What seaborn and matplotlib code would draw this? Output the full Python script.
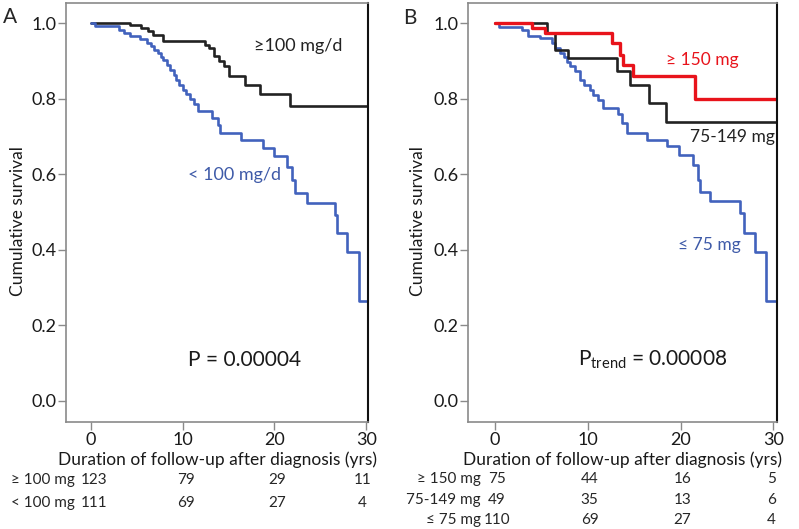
import matplotlib
matplotlib.use("Agg")
import matplotlib.pyplot as plt
import matplotlib.transforms as mtransforms
from matplotlib.ticker import FormatStrFormatter
import seaborn as sns
import pandas as pd

# Panel A: >=100 mg/d vs <100 mg/d (step curves, time in yrs / cumulative survival)
a_hi_t = [0, 4.3, 5.5, 6.2, 6.8, 7.9, 12.4, 12.9, 13.4, 14.0, 14.5, 15.0, 16.8, 18.4, 21.7, 30.2]
a_hi_s = [1.0, 0.994, 0.987, 0.98, 0.968, 0.952, 0.943, 0.933, 0.912, 0.899, 0.885, 0.859, 0.837, 0.811, 0.781, 0.781]

a_lo_t = [0, 0.4, 3.0, 3.6, 4.3, 5.3, 6.1, 6.5, 6.9, 7.3, 7.6, 7.9, 8.3, 8.6, 9.0, 9.3, 9.6, 10.0,
          10.4, 10.8, 11.2, 11.7, 13.2, 13.8, 14.1, 16.4, 18.8, 19.9, 21.4, 21.9, 22.2, 23.5,
          26.6, 26.8, 27.9, 29.2, 30.2]
a_lo_s = [1.0, 0.992, 0.982, 0.974, 0.967, 0.958, 0.947, 0.938, 0.929, 0.92, 0.911, 0.902, 0.889,
          0.876, 0.863, 0.85, 0.837, 0.824, 0.811, 0.798, 0.785, 0.766, 0.749, 0.73, 0.709, 0.691,
          0.669, 0.647, 0.62, 0.585, 0.55, 0.523, 0.493, 0.444, 0.395, 0.263, 0.263]

# Panel B: >=150 mg, 75-149 mg, <=75 mg
b_hi_t = [0, 4.0, 5.4, 12.6, 13.5, 13.8, 14.9, 21.6, 30.4]
b_hi_s = [1.0, 0.987, 0.974, 0.947, 0.916, 0.89, 0.859, 0.80, 0.80]

b_mid_t = [0, 5.6, 6.5, 7.9, 13.2, 14.6, 16.6, 18.4, 30.4]
b_mid_s = [1.0, 0.974, 0.929, 0.907, 0.872, 0.837, 0.788, 0.739, 0.739]

b_lo_t = [0, 0.4, 2.9, 3.6, 4.9, 6.1, 6.5, 7.0, 7.4, 7.8, 8.1, 8.6, 9.2, 9.6, 10.2, 10.6, 11.1,
          11.7, 13.3, 13.7, 14.2, 16.4, 18.5, 19.8, 21.4, 21.9, 22.1, 23.2, 26.4, 26.8, 28.0,
          29.2, 30.4]
b_lo_s = [1.0, 0.99, 0.982, 0.966, 0.96, 0.947, 0.935, 0.922, 0.91, 0.898, 0.886, 0.872, 0.85,
          0.837, 0.824, 0.81, 0.797, 0.775, 0.758, 0.735, 0.709, 0.691, 0.674, 0.651, 0.625,
          0.585, 0.554, 0.528, 0.497, 0.444, 0.395, 0.263, 0.263]

# numbers at risk
risk_times = [0, 10, 20, 30]
a_risk_labels = ['≥ 100 mg', '< 100 mg']
a_risk = [[123, 79, 29, 11], [111, 69, 27, 4]]
b_risk_labels = ['≥ 150 mg', '75-149 mg', '≤ 75 mg']
b_risk = [[75, 44, 16, 5], [49, 35, 13, 6], [110, 69, 27, 4]]

blue = '#4262bd'
red = '#e8131b'
black = '#222222'
grey = '#8a8a8a'

dfA = pd.concat([
    pd.DataFrame({'t': a_hi_t, 's': a_hi_s, 'grp': 'hi'}),
    pd.DataFrame({'t': a_lo_t, 's': a_lo_s, 'grp': 'lo'}),
])
dfB = pd.concat([
    pd.DataFrame({'t': b_lo_t, 's': b_lo_s, 'grp': 'lo'}),
    pd.DataFrame({'t': b_mid_t, 's': b_mid_s, 'grp': 'mid'}),
    pd.DataFrame({'t': b_hi_t, 's': b_hi_s, 'grp': 'hi'}),
])

sns.set_style('white')
plt.rcParams['font.family'] = ['Lato', 'DejaVu Sans']

fig = plt.figure(figsize=(7.99, 5.29), dpi=100)
axA = fig.add_axes([0.0826, 0.2023, 0.378, 0.792])
axB = fig.add_axes([0.5857, 0.2023, 0.3868, 0.792])

sns.lineplot(data=dfA, x='t', y='s', hue='grp', palette={'hi': black, 'lo': blue},
             estimator=None, sort=False, drawstyle='steps-post', linewidth=1.9,
             legend=False, ax=axA)
sns.lineplot(data=dfB, x='t', y='s', hue='grp', palette={'hi': red, 'mid': black, 'lo': blue},
             estimator=None, sort=False, drawstyle='steps-post', linewidth=1.9,
             legend=False, ax=axB)
for ln in axB.get_lines():
    if ln.get_color() == red:
        ln.set_linewidth(2.4)


def style_ax(ax, xlim, ylab_x):
    ax.set_xlim(*xlim)
    ax.set_ylim(-0.056, 1.053)
    ax.set_xticks(risk_times)
    ax.set_yticks([0, 0.2, 0.4, 0.6, 0.8, 1.0])
    ax.yaxis.set_major_formatter(FormatStrFormatter('%.1f'))
    for s in ['left', 'top', 'bottom']:
        ax.spines[s].set_color(grey)
        ax.spines[s].set_linewidth(1.2)
    ax.spines['right'].set_color('#111111')
    ax.spines['right'].set_linewidth(1.5)
    ax.tick_params(direction='out', length=6, width=1, color=grey, labelsize=13,
                   pad=1, left=True, bottom=True, labelcolor='#1a1a1a')
    ax.set_xlabel('Duration of follow-up after diagnosis (yrs)', fontsize=12.5,
                  labelpad=3, color='#1a1a1a')
    ax.set_ylabel('Cumulative survival', fontsize=12.5, color='#1a1a1a')
    ax.yaxis.set_label_coords(ylab_x, 0.48)


style_ax(axA, (-2.73, 30.2), -0.132)
style_ax(axB, (-2.9, 30.4), -0.136)

# panel A annotations
axA.text(22.6, 0.938, '≥100 mg/d', fontsize=13, ha='center', va='center', color=black)
axA.text(15.6, 0.599, '< 100 mg/d', fontsize=13, ha='center', va='center', color='#3e5aa8')
axA.text(16.7, 0.109, 'P = 0.00004', fontsize=15, ha='center', va='center', color='#1a1a1a')
fig.text(10 / 799, 1 - 17 / 529, 'A', fontsize=15, ha='center', va='center')

# panel B annotations
axB.text(22.3, 0.903, '≥ 150 mg', fontsize=12.5, ha='center', va='center', color=red)
axB.text(25.6, 0.699, '75-149 mg', fontsize=12.5, ha='center', va='center', color=black)
axB.text(23.1, 0.413, '≤ 75 mg', fontsize=12.5, ha='center', va='center', color='#3e5aa8')
axB.text(17.0, 0.109, r'P$_{\mathregular{trend}}$ = 0.00008', fontsize=15, ha='center',
         va='center', color='#1a1a1a')
fig.text(410 / 799, 1 - 18 / 529, 'B', fontsize=15, ha='center', va='center')

# numbers-at-risk tables
rowsA = [1 - 480 / 529, 1 - 503 / 529]
trA = mtransforms.blended_transform_factory(axA.transData, fig.transFigure)
for lab, nums, y in zip(a_risk_labels, a_risk, rowsA):
    fig.text(75 / 799, y, lab, fontsize=11, ha='right', va='center')
    for t, n in zip(risk_times, nums):
        axA.text(min(t, 29.3) + 0.3, y, str(n), transform=trA, fontsize=11,
                 ha='center', va='center')

rowsB = [1 - 479 / 529, 1 - 500 / 529, 1 - 520 / 529]
trB = mtransforms.blended_transform_factory(axB.transData, fig.transFigure)
for lab, nums, y in zip(b_risk_labels, b_risk, rowsB):
    fig.text(481 / 799, y, lab, fontsize=11, ha='right', va='center')
    for t, n in zip(risk_times, nums):
        axB.text(min(t, 29.6) + 0.2, y, str(n), transform=trB, fontsize=11,
                 ha='center', va='center')

fig.savefig('out.png', dpi=100)
